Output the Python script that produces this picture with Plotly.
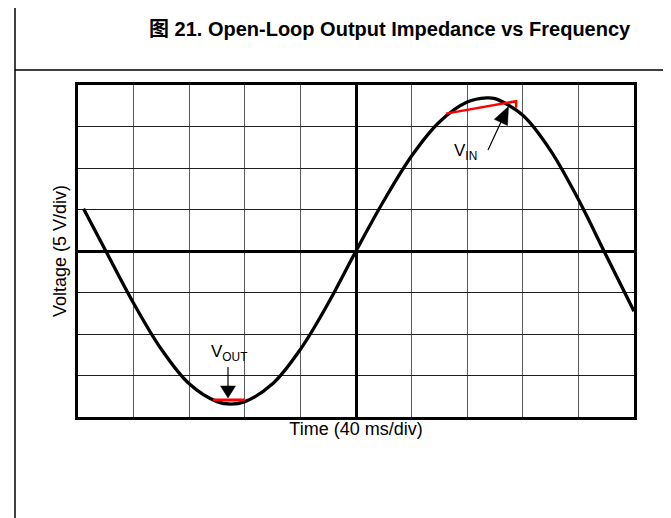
import plotly.graph_objects as go

# ---- data (divisions: x in time divisions from centre, y in voltage divisions) ----
vout_x = [-4.9, -4.5, -4.0, -3.5, -3.0, -2.5, -2.25, -2.0, -1.5, -1.0, -0.5, 0.0,
          0.5, 1.0, 1.5, 2.0, 2.35, 2.5, 3.0, 3.5, 4.0, 4.5, 5.0]
vout_y = [1.02, 0.0, -1.26, -2.37, -3.20, -3.63, -3.69, -3.63, -3.20, -2.37, -1.26, 0.0,
          1.21, 2.29, 3.11, 3.59, 3.69, 3.67, 3.27, 2.42, 1.24, -0.11, -1.45]

vin_top_x = [1.62, 2.88, 2.88]
vin_top_y = [3.31, 3.61, 3.45]
vin_bot_x = [-2.57, -2.00]
vin_bot_y = [-3.59, -3.59]

title_text = "<b>图 21. Open-Loop Output Impedance vs Frequency</b>"
x_title = "Time (40 ms/div)"
y_title = "Voltage (5 V/div)"
vin_label = "V<sub>IN</sub>"
vout_label = "V<sub>OUT</sub>"

W, H = 671, 518
L, R, T, B = 70, 626, 77, 409
FONT = "Liberation Sans, Arial, Noto Sans CJK SC, sans-serif"


def px_x(p):
    return (p - L) / (R - L)


def px_y(p):
    return (B - p) / (B - T)


def dx(p):
    return (p - L) / ((R - L) / 10) - 5


def dy(p):
    return ((B + T) / 2 - p) / ((B - T) / 8)


def tri_path(pts):
    s = "M " + " L ".join(f"{dx(a):.4f},{dy(b):.4f}" for a, b in pts) + " Z"
    return s


fig = go.Figure()
fig.add_trace(go.Scatter(x=vout_x, y=vout_y, mode="lines",
                         line=dict(color="black", width=3.3, shape="spline", smoothing=1.0),
                         hoverinfo="skip", showlegend=False))
fig.add_trace(go.Scatter(x=vin_top_x, y=vin_top_y, mode="lines",
                         line=dict(color="#ff0000", width=2.5),
                         hoverinfo="skip", showlegend=False))
fig.add_trace(go.Scatter(x=vin_bot_x, y=vin_bot_y, mode="lines",
                         line=dict(color="#ff0000", width=3),
                         hoverinfo="skip", showlegend=False))

axis_common = dict(showticklabels=False, ticks="", showline=True, linecolor="black",
                   linewidth=3, mirror=True, zeroline=True, zerolinecolor="black",
                   zerolinewidth=3, showgrid=True, dtick=1, tick0=0, fixedrange=True)

fig.update_xaxes(range=[-5, 5], gridcolor="#5a5a5a", gridwidth=1.3,
                 title=dict(text=x_title, font=dict(size=18, color="black", family=FONT), standoff=4),
                 **axis_common)
fig.update_yaxes(range=[-4, 4], gridcolor="#1e1e1e", gridwidth=1.3,
                 title=dict(text=y_title, font=dict(size=18, color="black", family=FONT), standoff=4),
                 **axis_common)

annotations = [
    dict(text=title_text, xref="paper", yref="paper", x=px_x(625), y=px_y(21),
         xanchor="right", yanchor="middle", showarrow=False,
         font=dict(size=20, color="black", family=FONT)),
    dict(text=vin_label, xref="x", yref="y", x=dx(457), y=dy(144),
         showarrow=False, font=dict(size=17, color="black", family=FONT)),
    dict(text=vout_label, xref="x", yref="y", x=dx(221), y=dy(345),
         showarrow=False, font=dict(size=17, color="black", family=FONT)),
]

shapes = [
    # page frame lines
    dict(type="line", xref="paper", yref="paper", x0=px_x(7), x1=px_x(671),
         y0=px_y(62), y1=px_y(62), line=dict(color="black", width=1.5)),
    dict(type="line", xref="paper", yref="paper", x0=px_x(7), x1=px_x(7),
         y0=px_y(0), y1=px_y(518), line=dict(color="black", width=1.5)),
    # V_OUT pointer
    dict(type="line", xref="x", yref="y", x0=dx(220), y0=dy(359), x1=dx(220), y1=dy(379),
         line=dict(color="black", width=1.2)),
    dict(type="path", xref="x", yref="y",
         path=tri_path([(212.5, 378), (227.5, 378), (220, 390)]),
         fillcolor="black", line=dict(color="black", width=0.5)),
    # V_IN pointer
    dict(type="line", xref="x", yref="y", x0=dx(480), y0=dy(142), x1=dx(493), y1=dy(114),
         line=dict(color="black", width=1.2)),
    dict(type="path", xref="x", yref="y",
         path=tri_path([(486.3, 111.3), (499.5, 117.5), (500.5, 98.5)]),
         fillcolor="black", line=dict(color="black", width=0.5)),
]

fig.update_layout(width=W, height=H, margin=dict(l=L, r=W - R, t=T, b=H - B),
                  paper_bgcolor="white", plot_bgcolor="white",
                  font=dict(family=FONT, color="black"),
                  annotations=annotations, shapes=shapes, showlegend=False)

fig.write_html("out.html")
